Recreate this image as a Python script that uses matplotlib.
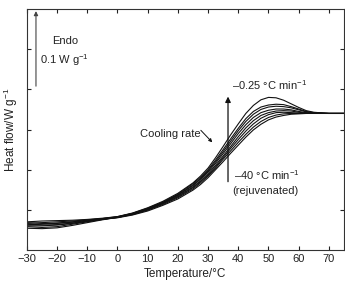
import matplotlib.pyplot as plt
import numpy as np

plt.rcParams['font.family'] = ['Liberation Sans', 'DejaVu Sans']
plt.rcParams['mathtext.fontset'] = 'custom'
plt.rcParams['mathtext.rm'] = 'Liberation Sans'

# temperature grid (deg C) and heat-flow traces (arbitrary offset, 1 unit = 1 tick)
temps = [-30, -25, -20, -15, -10, -5, 0, 5, 10, 15, 20, 25,
         27.5, 30, 32.5, 35, 37.5, 40, 42.5, 45, 47.5, 50, 52.5, 55, 57.5, 60, 62.5, 65,
         70, 75]

flow_025 = [0.62, 0.64, 0.67, 0.70, 0.74, 0.78, 0.83, 0.92, 1.05, 1.21, 1.41, 1.67,
            1.84, 2.04, 2.30, 2.58, 2.87, 3.14, 3.40, 3.60, 3.74, 3.80, 3.79, 3.73, 3.64, 3.55, 3.47, 3.43,
            3.40, 3.40]
flow_05 = [0.70, 0.72, 0.73, 0.74, 0.76, 0.79, 0.83, 0.91, 1.04, 1.19, 1.39, 1.65,
           1.81, 2.00, 2.24, 2.50, 2.77, 3.03, 3.27, 3.45, 3.56, 3.61, 3.63, 3.62, 3.57, 3.51, 3.45, 3.42,
           3.40, 3.40]
flow_1 = [0.58, 0.56, 0.58, 0.64, 0.70, 0.76, 0.82, 0.91, 1.03, 1.18, 1.37, 1.62,
          1.78, 1.97, 2.20, 2.45, 2.71, 2.97, 3.20, 3.38, 3.50, 3.56, 3.58, 3.57, 3.54, 3.49, 3.44, 3.41,
          3.40, 3.40]
flow_2 = [0.66, 0.68, 0.70, 0.72, 0.75, 0.78, 0.82, 0.90, 1.02, 1.17, 1.36, 1.60,
          1.76, 1.94, 2.16, 2.40, 2.65, 2.90, 3.12, 3.30, 3.42, 3.48, 3.51, 3.51, 3.49, 3.45, 3.42, 3.41,
          3.40, 3.40]
flow_5 = [0.54, 0.53, 0.55, 0.61, 0.68, 0.75, 0.81, 0.89, 1.01, 1.16, 1.34, 1.57,
          1.72, 1.90, 2.11, 2.34, 2.58, 2.82, 3.04, 3.22, 3.35, 3.42, 3.46, 3.47, 3.46, 3.43, 3.41, 3.40,
          3.40, 3.40]
flow_10 = [0.68, 0.66, 0.66, 0.69, 0.73, 0.77, 0.81, 0.89, 1.00, 1.15, 1.32, 1.55,
           1.70, 1.87, 2.07, 2.30, 2.53, 2.75, 2.96, 3.14, 3.28, 3.37, 3.42, 3.43, 3.42, 3.41, 3.40, 3.40,
           3.40, 3.40]
flow_20 = [0.60, 0.60, 0.62, 0.66, 0.71, 0.76, 0.81, 0.88, 0.99, 1.13, 1.30, 1.52,
           1.67, 1.84, 2.04, 2.26, 2.47, 2.68, 2.88, 3.06, 3.20, 3.30, 3.36, 3.39, 3.40, 3.40, 3.40, 3.40,
           3.40, 3.40]
flow_40 = [0.64, 0.62, 0.63, 0.67, 0.72, 0.77, 0.80, 0.87, 0.97, 1.11, 1.27, 1.49,
           1.63, 1.80, 2.00, 2.20, 2.41, 2.61, 2.81, 2.99, 3.13, 3.24, 3.31, 3.35, 3.38, 3.39, 3.40, 3.40,
           3.40, 3.40]

traces = [flow_025, flow_05, flow_1, flow_2, flow_5, flow_10, flow_20, flow_40]

fig = plt.figure(figsize=(3.45, 2.84), dpi=100)
ax = fig.add_axes([0.078, 0.12, 0.919, 0.848])

for tr in traces:
    ax.plot(temps, tr, color='#111111', lw=0.8)

ax.set_xlim(-30, 75)
ax.set_ylim(0, 6)
ax.set_xticks(np.arange(-30, 71, 10))
ax.set_yticks([1, 2, 3, 4, 5])
ax.set_yticklabels([])
ax.tick_params(direction='in', top=True, right=True, length=3, width=0.8,
               labelsize=8, colors='#222222', pad=3)
for s in ax.spines.values():
    s.set_linewidth(0.8)
    s.set_color('#333333')

ax.set_xlabel('Temperature/°C', fontsize=8.5, color='#222222', labelpad=3)
ax.set_ylabel('Heat flow/W g$^{-1}$', fontsize=8.5, color='#222222')
ax.yaxis.set_label_coords(-0.022, 0.5)

# scale bar
ax.annotate('', xy=(-27, 5.95), xytext=(-27, 4.08),
            arrowprops=dict(arrowstyle='-|>', color='#444444', lw=0.8,
                            mutation_scale=6, shrinkA=0, shrinkB=0))
ax.text(-21.8, 5.2, 'Endo', fontsize=8, va='center', color='#222222')
ax.text(-25.8, 4.73, '0.1 W g$^{-1}$', fontsize=8, va='center', color='#222222')

# cooling-rate arrow
ax.annotate('', xy=(36.6, 3.82), xytext=(36.6, 1.7),
            arrowprops=dict(arrowstyle='-|>', color='#111111', lw=0.9,
                            mutation_scale=8, shrinkA=0, shrinkB=0))
ax.text(38, 4.1, '\u20130.25 °C min$^{-1}$', fontsize=8, va='center', color='#222222')
ax.text(7.6, 2.9, 'Cooling rate', fontsize=8, va='center', color='#222222')
ax.annotate('', xy=(31.4, 2.68), xytext=(27.6, 2.98),
            arrowprops=dict(arrowstyle='-|>', color='#111111', lw=0.7,
                            mutation_scale=5, shrinkA=0, shrinkB=0))
ax.text(38.7, 1.87, '\u201340 °C min$^{-1}$', fontsize=8, va='center', color='#222222')
ax.text(38, 1.47, '(rejuvenated)', fontsize=8, va='center', color='#222222')

fig.savefig('out.png', dpi=100)
